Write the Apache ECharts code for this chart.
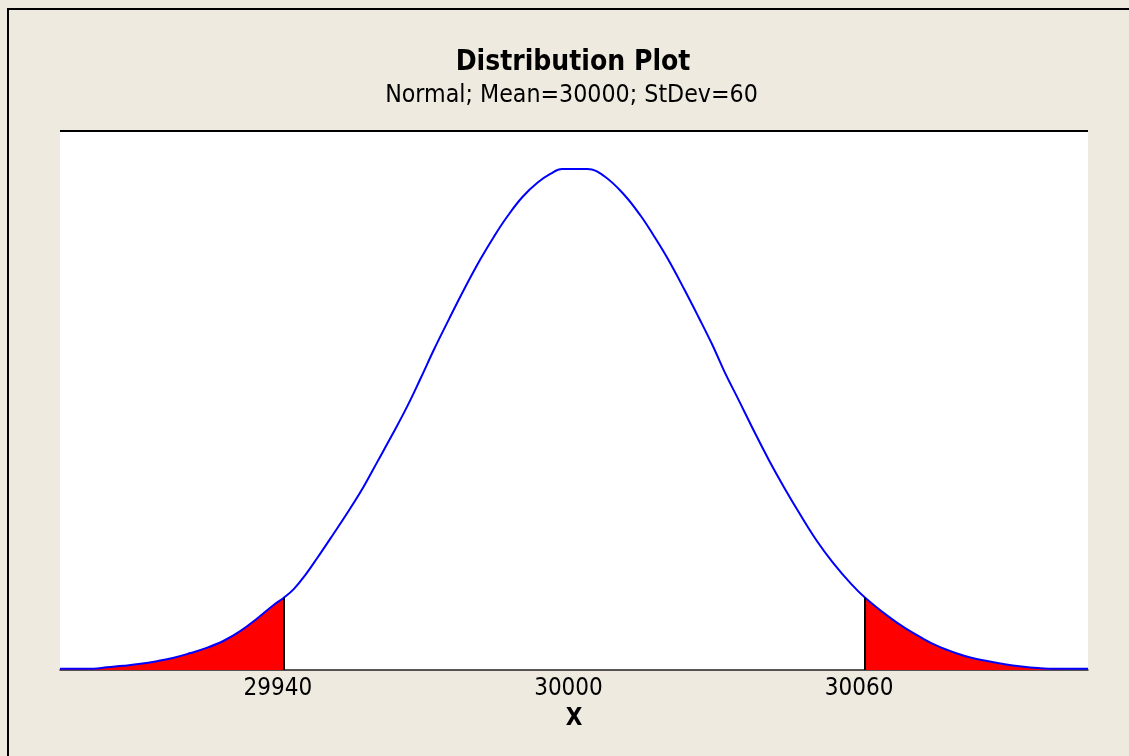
<!DOCTYPE html>
<html>
<head>
<meta charset="utf-8">
<script src="https://cdn.jsdelivr.net/npm/echarts@6/dist/echarts.min.js"></script>
<style>
  html, body { margin: 0; padding: 0; background: #EEEAE0; }
  #chart { width: 1129px; height: 756px; }
</style>
</head>
<body>
<div id="chart"></div>
<script>
const titleText = 'Distribution Plot';
const subtitleText = 'Normal; Mean=30000; StDev=60';
const axisName = 'X';
const tickValues = [29940, 30000, 30060];
const lowerBound = 29940;
const upperBound = 30060;
const xRange = [29893.8, 30106];

const xValues = [29893.8, 29900.7, 29903.5, 29906.9, 29910.4, 29913.8, 29917.3, 29920.7, 29924.2, 29927.6, 29931.0, 29934.5, 29937.9, 29940,
  29942.1, 29944.5, 29946.9, 29950.0, 29953.4, 29956.5, 29959.3, 29962.4, 29965.5, 29968.2, 29971.0, 29974.1, 29977.2, 29980.6, 29983.4, 29986.2, 29989.3, 29992.4, 29995.1, 29997.4,
  30000,
  30002.7, 30006.1, 30010.2, 30013.7, 30016.4, 30019.2, 30022.6, 30025.7, 30028.5, 30030.9, 30034.0, 30037.1, 30040.2, 30043.3, 30046.4, 30049.9, 30053.3, 30057.1,
  30060,
  30064.7, 30068.1, 30071.6, 30075.0, 30078.5, 30081.9, 30085.4, 30088.8, 30092.3, 30095.7, 30099.2, 30106];

const densityValues = [0.00003, 0.00003, 0.00007, 0.00011, 0.00016, 0.00023, 0.00032, 0.00044, 0.00058, 0.00076, 0.00101, 0.00134, 0.00169, 0.00188,
  0.00211, 0.00248, 0.00291, 0.00349, 0.00414, 0.00477, 0.00541, 0.00612, 0.00686, 0.00757, 0.00833, 0.00912, 0.00989, 0.01068, 0.01127, 0.01180, 0.01230, 0.01267, 0.01290, 0.01302,
  0.01302,
  0.01302, 0.01284, 0.01236, 0.01180, 0.01128, 0.01070, 0.00991, 0.00915, 0.00844, 0.00777, 0.00699, 0.00620, 0.00544, 0.00474, 0.00408, 0.00338, 0.00280, 0.00224,
  0.00188,
  0.00140, 0.00110, 0.00084, 0.00062, 0.00045, 0.00032, 0.00023, 0.00015, 0.00009, 0.00005, 0.00003, 0.00003];

const curve = xValues.map((x, i) => [x, densityValues[i]]);
const leftTail = curve.filter(p => p[0] <= lowerBound);
const rightTail = curve.filter(p => p[0] >= upperBound);
const lowerHeight = densityValues[xValues.indexOf(lowerBound)];
const upperHeight = densityValues[xValues.indexOf(upperBound)];

const chart = echarts.init(document.getElementById('chart'), null, { renderer: 'canvas' });
const FONT = '"DejaVu Sans Condensed", "DejaVu Sans", sans-serif';
const SMOOTH = 0.4;

const tailSeries = (data, bound, h) => ({
  type: 'line',
  data: data,
  symbol: 'none',
  silent: true,
  smooth: SMOOTH,
  lineStyle: { width: 0 },
  areaStyle: { color: '#FF0000', opacity: 1, origin: 'start' },
  z: 2,
  markLine: {
    silent: true,
    symbol: 'none',
    label: { show: false },
    lineStyle: { color: '#000000', width: 2, type: 'solid' },
    data: [[{ coord: [bound, 0] }, { coord: [bound, h] }]]
  }
});

chart.setOption({
  backgroundColor: '#EEEAE0',
  animation: false,
  grid: {
    left: 60, right: 41, top: 131, bottom: 86,
    show: true, backgroundColor: '#FFFFFF', borderWidth: 0
  },
  xAxis: {
    type: 'value',
    min: xRange[0], max: xRange[1],
    name: axisName,
    nameLocation: 'middle',
    nameGap: 37,
    nameTextStyle: { fontFamily: FONT, fontWeight: 'bold', fontSize: 24, color: '#000' },
    axisLine: { show: true, onZero: false, lineStyle: { color: '#222', width: 1.5 } },
    axisTick: { show: false },
    splitLine: { show: false },
    axisLabel: {
      customValues: tickValues,
      fontFamily: FONT, fontSize: 24, color: '#000',
      margin: 7,
      padding: [0, 12, 0, 0],
      formatter: v => String(v)
    }
  },
  yAxis: {
    type: 'value', min: 0, max: 0.01401, show: false,
    splitLine: { show: false }
  },
  series: [
    tailSeries(leftTail, lowerBound, lowerHeight),
    tailSeries(rightTail, upperBound, upperHeight),
    {
      type: 'line',
      data: curve,
      symbol: 'none',
      silent: true,
      smooth: SMOOTH,
      lineStyle: { color: '#0000FF', width: 2 },
      z: 3
    }
  ],
  graphic: [
    { type: 'rect', shape: { x: 7, y: 8, width: 2, height: 748 }, style: { fill: '#000' }, silent: true },
    { type: 'rect', shape: { x: 7, y: 8, width: 1122, height: 2 }, style: { fill: '#000' }, silent: true },
    { type: 'rect', shape: { x: 60, y: 130, width: 1028, height: 2 }, style: { fill: '#000' }, silent: true, z: 10 },
    { type: 'text', x: 573, y: 62.5, style: { text: titleText, font: 'bold 28px ' + FONT, fill: '#000', align: 'center', verticalAlign: 'middle' }, silent: true },
    { type: 'text', x: 571.5, y: 96, style: { text: subtitleText, font: '24.7px ' + FONT, fill: '#000', align: 'center', verticalAlign: 'middle' }, silent: true }
  ]
});
</script>
</body>
</html>
